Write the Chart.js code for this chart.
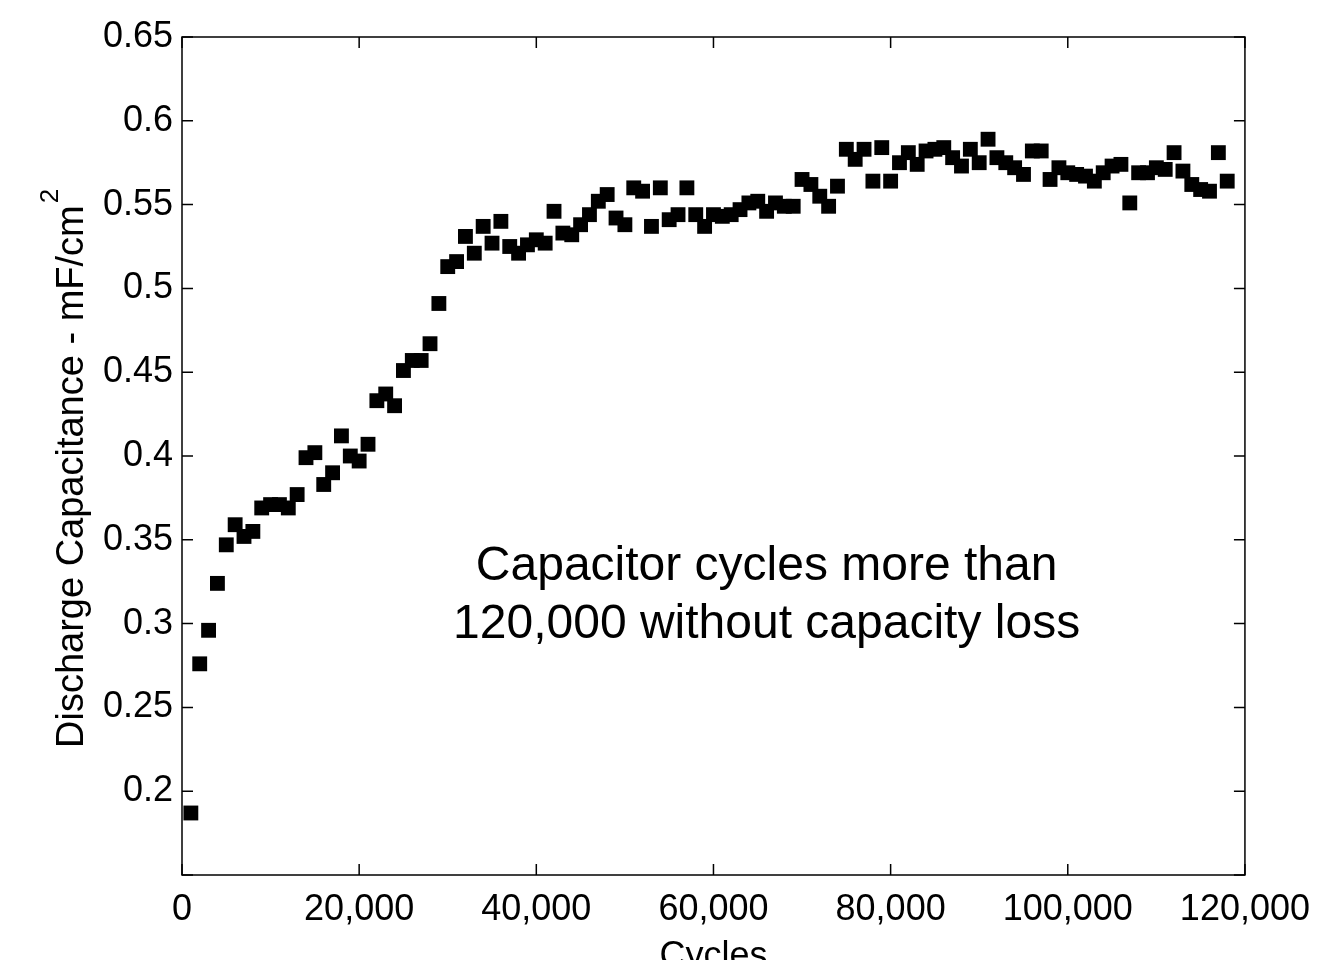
<!DOCTYPE html>
<html>
<head>
<meta charset="utf-8">
<script src="https://cdn.jsdelivr.net/npm/chart.js@4.4.1/dist/chart.umd.min.js"></script>
<style>
  html, body { margin: 0; padding: 0; background: #fff; overflow: hidden; }
  #wrap { width: 1323px; height: 1000px; }
</style>
</head>
<body>
<div id="wrap"><canvas id="capChart"></canvas></div>
<script>
// cycle number of each measurement
const cycles = [
  1000,2000,3000,4000,5000,6000,7000,8000,9000,10000,
  11000,12000,13000,14000,15000,16000,17000,18000,19000,20000,
  21000,22000,23000,24000,25000,26000,27000,28000,29000,30000,
  31000,32000,33000,34000,35000,36000,37000,38000,39000,40000,
  41000,42000,43000,44000,45000,46000,47000,48000,49000,50000,
  51000,52000,53000,54000,55000,56000,57000,58000,59000,60000,
  61000,62000,63000,64000,65000,66000,67000,68000,69000,70000,
  71000,72000,73000,74000,75000,76000,77000,78000,79000,80000,
  81000,82000,83000,84000,85000,86000,87000,88000,89000,90000,
  91000,92000,93000,94000,95000,96000,97000,98000,99000,100000,
  101000,102000,103000,104000,105000,106000,107000,108000,109000,110000,
  111000,112000,113000,114000,115000,116000,117000,118000
]
// discharge capacitance, mF/cm2
const capacitance = [
  0.187,0.276,0.296,0.324,0.347,0.359,0.352,0.355,0.369,0.371,
  0.371,0.369,0.377,0.399,0.402,0.383,0.390,0.412,0.400,0.397,
  0.407,0.433,0.437,0.430,0.451,0.457,0.457,0.467,0.491,0.513,
  0.516,0.531,0.521,0.537,0.527,0.540,0.525,0.521,0.526,0.529,
  0.527,0.546,0.533,0.532,0.538,0.544,0.552,0.556,0.542,0.538,
  0.560,0.558,0.537,0.560,0.541,0.544,0.560,0.544,0.537,0.544,
  0.543,0.544,0.547,0.551,0.552,0.546,0.551,0.549,0.549,0.565,
  0.562,0.555,0.549,0.561,0.583,0.577,0.583,0.564,0.584,0.564,
  0.575,0.581,0.574,0.582,0.583,0.584,0.578,0.573,0.583,0.575,
  0.589,0.578,0.575,0.572,0.568,0.582,0.582,0.565,0.572,0.569,
  0.568,0.567,0.564,0.569,0.573,0.574,0.551,0.569,0.569,0.572,
  0.571,0.581,0.570,0.562,0.559,0.558,0.581,0.564
]
const xTicks = [0,20000,40000,60000,80000,100000,120000]
const yTicks = [0.15,0.2,0.25,0.3,0.35,0.4,0.45,0.5,0.55,0.6,0.65]
const yTitle = "Discharge Capacitance - mF/cm"
const yTitleSup = "2"
const note = ["Capacitor cycles more than", "120,000 without capacity loss"]

const FONT = "'Liberation Sans', Arial, sans-serif"

// matlab style box with inward ticks, y title with superscript, note text
const boxPlugin = {
  id: 'box',
  afterDraw(chart) {
    const ctx = chart.ctx
    const a = chart.chartArea
    const xs = chart.scales.x, ys = chart.scales.y
    ctx.save()
    ctx.strokeStyle = '#000'
    ctx.lineWidth = 1.5
    ctx.strokeRect(a.left, a.top, a.right - a.left, a.bottom - a.top)
    ctx.beginPath()
    xTicks.forEach(v => {
      const px = xs.getPixelForValue(v)
      ctx.moveTo(px, a.bottom); ctx.lineTo(px, a.bottom - 11)
      ctx.moveTo(px, a.top); ctx.lineTo(px, a.top + 11)
    })
    yTicks.forEach(v => {
      const py = ys.getPixelForValue(v)
      ctx.moveTo(a.left, py); ctx.lineTo(a.left + 11, py)
      ctx.moveTo(a.right, py); ctx.lineTo(a.right - 11, py)
    })
    ctx.stroke()

    ctx.fillStyle = '#000'

    // y axis title, rotated, with a real superscript
    ctx.save()
    ctx.translate(83, 748)
    ctx.rotate(-Math.PI / 2)
    ctx.textAlign = 'left'
    ctx.textBaseline = 'alphabetic'
    ctx.font = '38px ' + FONT
    ctx.fillText(yTitle, 0, 0)
    const w = ctx.measureText(yTitle).width
    ctx.font = '26px ' + FONT
    ctx.fillText(yTitleSup, w + 2, -25)
    ctx.restore()

    ctx.font = '48px ' + FONT
    ctx.textAlign = 'center'
    ctx.textBaseline = 'middle'
    const cx = xs.getPixelForValue(66000)
    ctx.fillText(note[0], cx, ys.getPixelForValue(0.334))
    ctx.fillText(note[1], cx, ys.getPixelForValue(0.2995))
    ctx.restore()
  }
}

const CHART = document.getElementById("capChart")

let capChart = new Chart(CHART, {
  type: 'scatter',
  data: {
    datasets: [
      {
        label: "Discharge Capacitance",
        data: cycles.map((c, i) => ({ x: c, y: capacitance[i] })),
        pointStyle: 'rect',
        pointRadius: 10.5,
        pointHoverRadius: 10.5,
        backgroundColor: '#000',
        borderColor: '#000',
        borderWidth: 0
      }
    ]
  },
  options: {
    responsive: true,
    maintainAspectRatio: false,
    animation: false,
    layout: { padding: { top: 37, right: 76, left: 0, bottom: 0 } },
    plugins: {
      legend: { display: false },
      tooltip: { enabled: false }
    },
    scales: {
      x: {
        type: 'linear',
        min: 0,
        max: 120000,
        afterFit(scale) { scale.height = 125 },
        grid: { display: false, drawTicks: false },
        border: { display: false },
        afterBuildTicks(scale) { scale.ticks = xTicks.map(v => ({ value: v })) },
        ticks: {
          padding: 13,
          maxRotation: 0,
          color: '#000',
          font: { family: FONT, size: 36 },
          callback: v => v.toLocaleString('en-US')
        },
        title: {
          display: true,
          text: 'Cycles',
          color: '#000',
          font: { family: FONT, size: 36 },
          padding: { top: 0, bottom: 21 }
        }
      },
      y: {
        min: 0.15,
        max: 0.65,
        afterFit(scale) { scale.width = 182 },
        grid: { display: false, drawTicks: false },
        border: { display: false },
        afterBuildTicks(scale) { scale.ticks = yTicks.map(v => ({ value: v })) },
        ticks: {
          padding: 9,
          color: '#000',
          font: { family: FONT, size: 36 },
          callback: v => v < 0.17 ? '' : String(Math.round(v * 100) / 100)
        },
        title: { display: false }
      }
    }
  },
  plugins: [boxPlugin]
})
</script>
</body>
</html>
